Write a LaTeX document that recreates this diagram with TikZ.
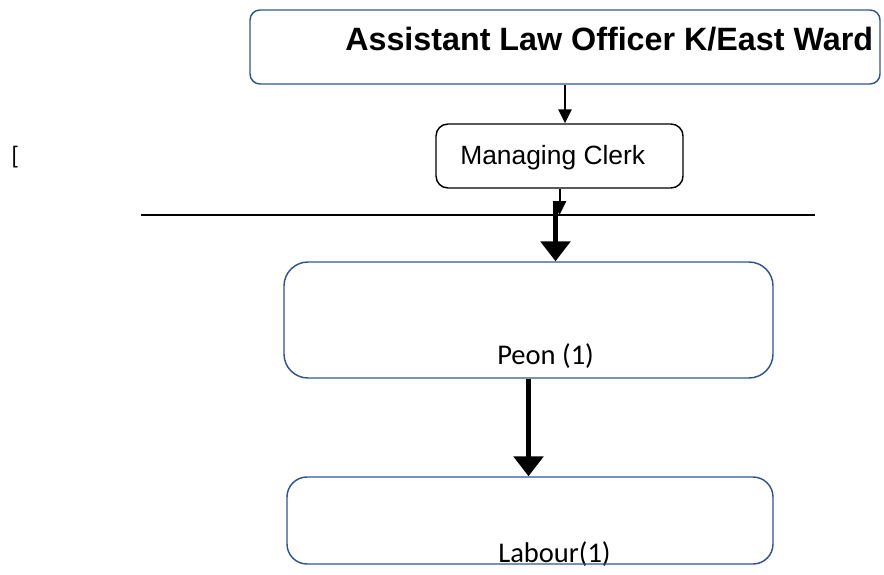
\documentclass[tikz,border=0pt]{standalone}
\usepackage{fontspec}
\setmainfont{Liberation Sans}
\newfontfamily\calibri{Carlito}
\usepackage{xcolor}
\usetikzlibrary{arrows.meta}
\definecolor{boxblue}{RGB}{47,84,150}

\begin{document}
\begin{tikzpicture}[x=0.75pt,y=0.75pt,yscale=-1,xscale=1,
  bluebox/.style={draw=boxblue, line width=1.1pt, rounded corners=#1, inner sep=0pt},
  blackbox/.style={draw=black, line width=1.1pt, rounded corners=#1, inner sep=0pt},
  thinarrow/.style={line width=1.5pt, -{Triangle[width=10pt,length=10.5pt]}},
  thickarrow/.style={line width=3.75pt, -{Triangle[width=22pt,length=15pt]}}]
\useasboundingbox (0,0) rectangle (884,574);

%Shape: Rounded Rect [id:officer]
\node [bluebox=7.5pt, minimum width=472.5pt, minimum height=55.5pt] (officer) at (565,47) {};
% Text Node
\node [anchor=base west, inner sep=0pt, font=\fontsize{24.2}{28}\selectfont\bfseries] (officertext) at (345,51) {Assistant Law Officer K/East Ward};

%Shape: Rounded Rect [id:clerk]
\node [blackbox=9pt, minimum width=185.25pt, minimum height=48pt] (clerk) at (559.5,156) {};
% Text Node
\node [anchor=base west, inner sep=0pt, font=\fontsize{19.8}{24}\selectfont] (clerktext) at (460,165) {Managing Clerk};

%Straight Lines [id:rule]
\coordinate (ruleL) at (141,215);
\coordinate (ruleR) at (815,215);
\draw [line width=1.1pt] (ruleL) -- (ruleR);

%Shape: Rounded Rect [id:peon]
\node [bluebox=18pt, minimum width=366.75pt, minimum height=87pt] (peon) at (528.5,320) {};
% Text Node
\node [anchor=base west, inner sep=0pt, font=\calibri\fontsize{21.4}{26}\selectfont] (peontext) at (497,364) {Peon (1)};

% Text Node
\node [anchor=base west, inner sep=0pt, font=\calibri\fontsize{21.4}{26}\selectfont] (labourtext) at (498,562) {Labour(1)};
%Shape: Rounded Rect [id:labour] (drawn over its text)
\node [bluebox=15pt, minimum width=364.5pt, minimum height=65.25pt] (labour) at (530,520.5) {};

% Text Node
\node [anchor=base west, inner sep=0pt, font=\calibri\fontsize{19}{22}\selectfont] (mark) at (11,164) {[};

%Arrows
\draw [thinarrow] (clerk.south) -- (clerk.south |- ruleL);
\draw [thickarrow] ([xshift=-3pt,yshift=10pt]clerk.south) -- ([xshift=-3pt]clerk.south |- peon.north);
\draw [thinarrow] (officer.south) -- (officer.south |- clerk.north);
\draw [thickarrow] (peon.south) -- (peon.south |- labour.north);

\end{tikzpicture}
\end{document}
